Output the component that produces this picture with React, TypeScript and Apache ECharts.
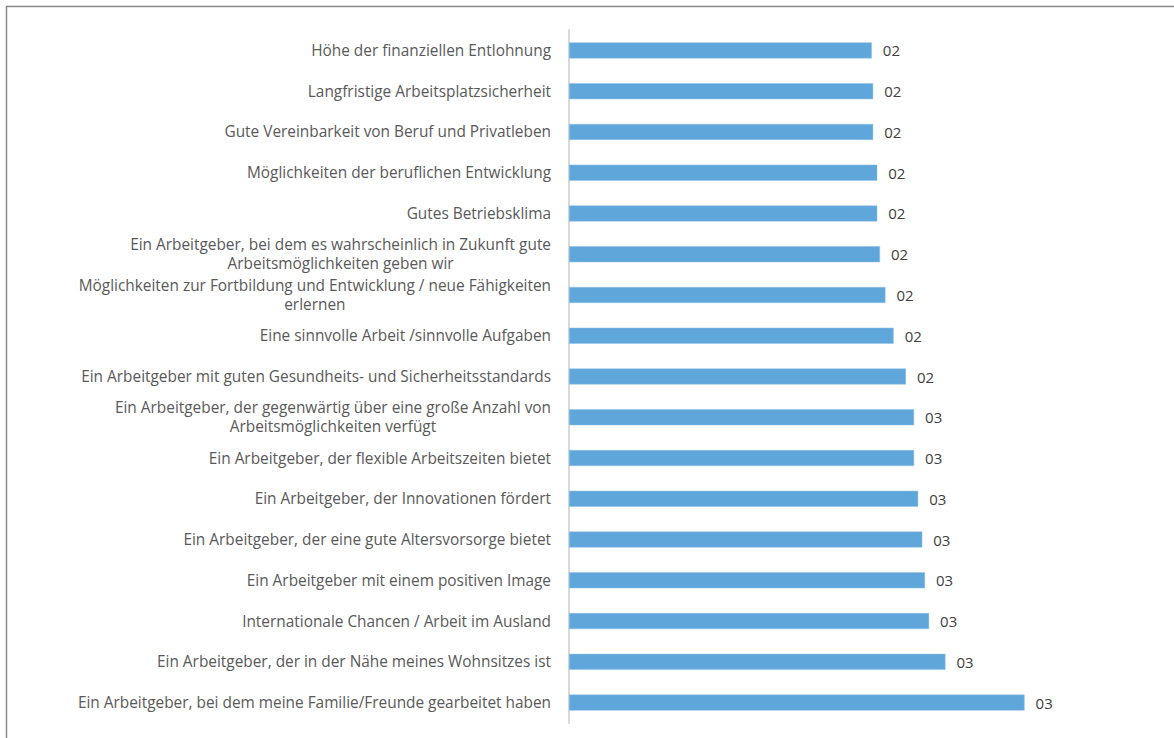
import React, { useEffect, useRef } from "react";
import * as echarts from "echarts";

const categories: string[] = [
  "Höhe der finanziellen Entlohnung",
  "Langfristige Arbeitsplatzsicherheit",
  "Gute Vereinbarkeit von Beruf und Privatleben",
  "Möglichkeiten der beruflichen Entwicklung",
  "Gutes Betriebsklima",
  "Ein Arbeitgeber, bei dem es wahrscheinlich in Zukunft gute\nArbeitsmöglichkeiten geben wir",
  "Möglichkeiten zur Fortbildung und Entwicklung / neue Fähigkeiten\nerlernen",
  "Eine sinnvolle Arbeit /sinnvolle Aufgaben",
  "Ein Arbeitgeber mit guten Gesundheits- und Sicherheitsstandards",
  "Ein Arbeitgeber, der gegenwärtig über eine große Anzahl von\nArbeitsmöglichkeiten verfügt",
  "Ein Arbeitgeber, der flexible Arbeitszeiten bietet",
  "Ein Arbeitgeber, der Innovationen fördert",
  "Ein Arbeitgeber, der eine gute Altersvorsorge bietet",
  "Ein Arbeitgeber mit einem positiven Image",
  "Internationale Chancen / Arbeit im Ausland",
  "Ein Arbeitgeber, der in der Nähe meines Wohnsitzes ist",
  "Ein Arbeitgeber, bei dem meine Familie/Freunde gearbeitet haben",
];

const values: number[] = [
  2.22, 2.23, 2.23, 2.26, 2.26, 2.28, 2.32, 2.38, 2.47, 2.53, 2.53, 2.56,
  2.59, 2.61, 2.64, 2.76, 3.34,
];

const formatValue = (v: number): string => {
  const r = Math.round(v);
  return r < 10 ? "0" + r : String(r);
};

export default function App() {
  const ref = useRef<HTMLDivElement>(null);

  useEffect(() => {
    if (!ref.current) return;
    const chart = echarts.init(ref.current, undefined, { renderer: "svg" });
    chart.setOption({
      animation: false,
      backgroundColor: "#ffffff",
      graphic: [
        {
          type: "rect",
          shape: { x: 6.5, y: 6.5, width: 1300, height: 900 },
          style: { fill: "none", stroke: "#8a8a8a", lineWidth: 1.5 },
          silent: true,
        },
      ],
      grid: {
        left: 569,
        top: 30,
        width: 545.6,
        height: 693,
        containLabel: false,
      },
      xAxis: {
        type: "value",
        min: 0,
        max: 4,
        show: false,
      },
      yAxis: {
        type: "category",
        data: categories,
        inverse: true,
        axisLine: { show: true, lineStyle: { color: "#d9d9d9", width: 2 } },
        axisTick: { show: false },
        axisLabel: {
          margin: 18,
          align: "right",
          color: "#595959",
          fontSize: 15.4,
          fontFamily: "Open Sans",
          lineHeight: 19,
          interval: 0,
          formatter: (val: string) =>
            val
              .split("\n")
              .map((l) => "{c|" + l + "}")
              .join("\n"),
          rich: {
            c: {
              align: "center",
              color: "#595959",
              fontSize: 15.4,
              fontFamily: "Open Sans",
              lineHeight: 19,
            },
          },
        },
        splitLine: { show: false },
      },
      series: [
        {
          type: "bar",
          data: values,
          barWidth: 16,
          itemStyle: { color: "#5fa6db", borderColor: "#8fc0e6", borderWidth: 0.5 },
          label: {
            show: true,
            position: "right",
            distance: 11,
            color: "#404040",
            fontSize: 15,
            fontFamily: "Open Sans",
            formatter: (p: any) => formatValue(p.value),
          },
        },
      ],
    });
    return () => chart.dispose();
  }, []);

  return (
    <div
      ref={ref}
      style={{ position: "absolute", left: 0, top: 0, width: 1174, height: 738 }}
    />
  );
}
